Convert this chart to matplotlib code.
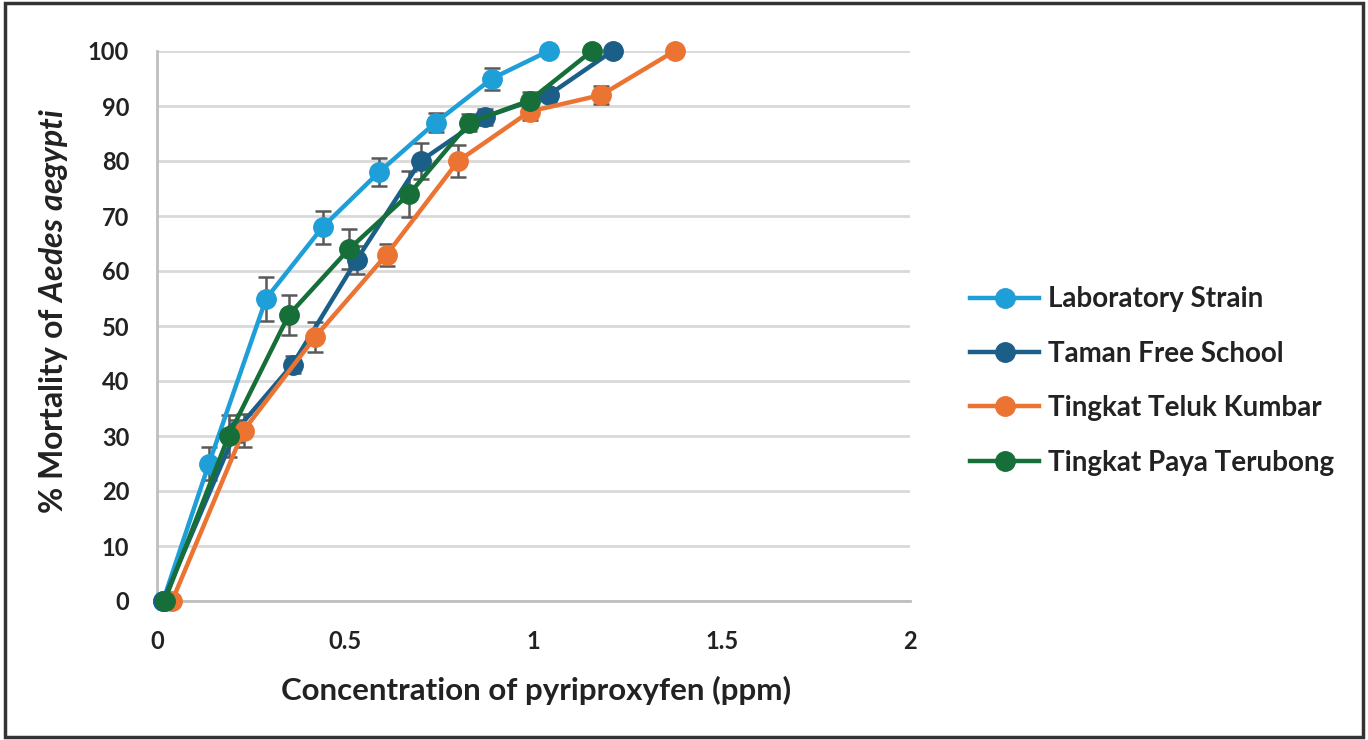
import matplotlib
matplotlib.use("Agg")
import matplotlib.pyplot as plt
from matplotlib.patches import Rectangle

plt.rcParams['font.family'] = ['Lato', 'DejaVu Sans']
plt.rcParams['mathtext.fontset'] = 'custom'
plt.rcParams['mathtext.it'] = 'Lato:italic:bold'

# data
series = ["Laboratory Strain", "Taman Free School",
          "Tingkat Teluk Kumbar", "Tingkat Paya Terubong"]
colors = ["#1E9FD8", "#1B5F88", "#EC7433", "#166F38"]

lab_x = [0.016, 0.138, 0.29, 0.44, 0.59, 0.74, 0.89, 1.04]
lab_y = [0, 25, 55, 68, 78, 87, 95, 100]
lab_err = [0, 3, 4, 3, 2.5, 1.8, 2, 0]

taman_x = [0.016, 0.21, 0.36, 0.53, 0.70, 0.87, 1.04, 1.21]
taman_y = [0, 31, 43, 62, 80, 88, 92, 100]
taman_err = [0, 2, 1.5, 2.5, 3.2, 1.5, 1, 0]

teluk_x = [0.04, 0.23, 0.42, 0.61, 0.80, 0.99, 1.18, 1.375]
teluk_y = [0, 31, 48, 63, 80, 89, 92, 100]
teluk_err = [0, 3, 2.8, 2, 2.9, 1.5, 1.6, 0]

paya_x = [0.02, 0.19, 0.35, 0.51, 0.67, 0.83, 0.99, 1.155]
paya_y = [0, 30, 52, 64, 74, 87, 91, 100]
paya_err = [0, 3.8, 3.6, 3.7, 4.2, 1.5, 1.5, 0]

xs = [lab_x, taman_x, teluk_x, paya_x]
ys = [lab_y, taman_y, teluk_y, paya_y]
errs = [lab_err, taman_err, teluk_err, paya_err]

fig = plt.figure(figsize=(13.68, 7.40), dpi=100)
ax = fig.add_axes([157 / 1368, 139 / 740, 753 / 1368, 550 / 740])

# error bars first, then lines on top
for x, y, e in zip(xs, ys, errs):
    ax.errorbar(x, y, yerr=e, fmt="none", ecolor="#595959",
                elinewidth=1.8, capsize=6, capthick=1.8, zorder=2)
for x, y, c, name in zip(xs, ys, colors, series):
    ax.plot(x, y, color=c, lw=3.2, marker="o", markersize=14,
            label=name, zorder=3, clip_on=False)

ax.set_xlim(0, 2)
ax.set_ylim(0, 100)
ax.set_xticks([0, 0.5, 1, 1.5, 2])
ax.set_xticklabels(["0", "0.5", "1", "1.5", "2"])
ax.set_yticks(range(0, 101, 10))
ax.grid(axis="y", color="#D9D9D9", lw=2)
ax.set_axisbelow(True)
for s in ["top", "right"]:
    ax.spines[s].set_visible(False)
for s in ["left", "bottom"]:
    ax.spines[s].set_color("#BFBFBF")
    ax.spines[s].set_linewidth(2)
ax.tick_params(length=0, labelsize=17, colors="#222222")
ax.tick_params(axis="x", pad=21)
ax.tick_params(axis="y", pad=20)
for lbl in ax.get_xticklabels() + ax.get_yticklabels():
    lbl.set_fontweight("bold")

ax.set_xlabel("Concentration of pyriproxyfen (ppm)", fontsize=22.5,
              fontweight="bold", color="#222222")
ax.xaxis.set_label_coords((536 - 157) / 753, (601 - 676) / 550)
ax.set_ylabel(r"% Mortality of $Aedes\ aegypti$", fontsize=23,
              fontweight="bold", color="#222222")
ax.yaxis.set_label_coords((70 - 157) / 753, 0.527)

leg = fig.legend(loc="center left", bbox_to_anchor=(945 / 1368, 359 / 740),
                 frameon=False, handlelength=2.5,
                 labelspacing=1.02, handletextpad=0.3,
                 prop={"weight": "bold", "size": 20})
for t in leg.get_texts():
    t.set_color("#222222")

fig.patches.append(Rectangle((5 / 1368, 3 / 740), 1358 / 1368, 734 / 740,
                             transform=fig.transFigure, fill=False,
                             edgecolor="#333333", lw=2.5))

fig.savefig("out.png", dpi=100)
